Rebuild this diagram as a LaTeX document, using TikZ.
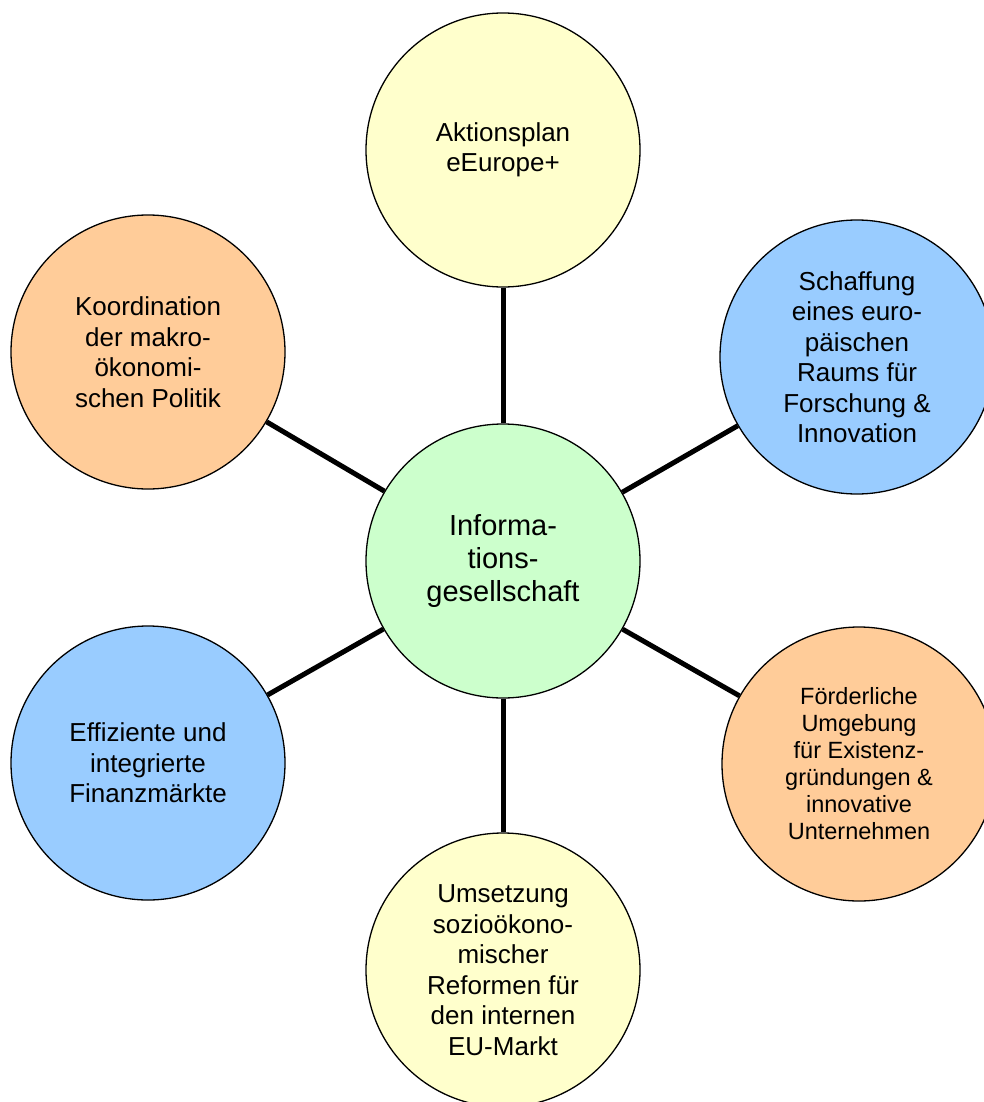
\documentclass[tikz,border=0pt]{standalone}
\usepackage{fontspec}
\setmainfont{Liberation Sans}
\usepackage{xcolor}
\usepackage{tikz}

\definecolor{hellgelb}{HTML}{FFFFCC}
\definecolor{hellblau}{HTML}{99CCFF}
\definecolor{hellorange}{HTML}{FFCC99}
\definecolor{hellgruen}{HTML}{CCFFCC}

\tikzset{
    kreis/.style={circle, draw=black, line width=1.3pt, minimum size=274pt,
        inner sep=0pt, align=center, font=\fontsize{26}{30.5}\selectfont},
    verbindung/.style={line width=5pt},
}

\begin{document}
\begin{tikzpicture}[x=1pt,y=-1pt]
            \useasboundingbox (0,0) rectangle (984,1102);
            \clip (0,0) rectangle (984,1102);
            \node[kreis, fill=hellgruen, font=\fontsize{29}{33}\selectfont] (info) at (503,561) {Informa-\\tions-\\gesellschaft};
            \node[kreis, fill=hellgelb] (aktion) at (503,150) {Aktionsplan\\eEurope+};
            \node[kreis, fill=hellblau] (forschung) at (857,357) {Schaffung\\eines euro-\\päischen\\Raums für\\Forschung \&\\Innovation};
            \node[kreis, fill=hellorange, font=\fontsize{23.5}{27}\selectfont] (gruendung) at (859,764) {Förderliche\\Umgebung\\für Existenz-\\gründungen \&\\innovative\\Unternehmen};
            \node[kreis, fill=hellgelb] (reform) at (503,970) {Umsetzung\\sozioökono-\\mischer\\Reformen für\\den internen\\EU-Markt};
            \node[kreis, fill=hellblau] (finanz) at (148,763) {Effiziente und\\integrierte\\Finanzmärkte};
            \node[kreis, fill=hellorange] (makro) at (148,352) {Koordination\\der makro-\\ökonomi-\\schen Politik};
            \foreach \ziel in {aktion, forschung, gruendung, reform, finanz, makro}
                \draw[verbindung] (info) -- (\ziel);
        \end{tikzpicture}
\end{document}
